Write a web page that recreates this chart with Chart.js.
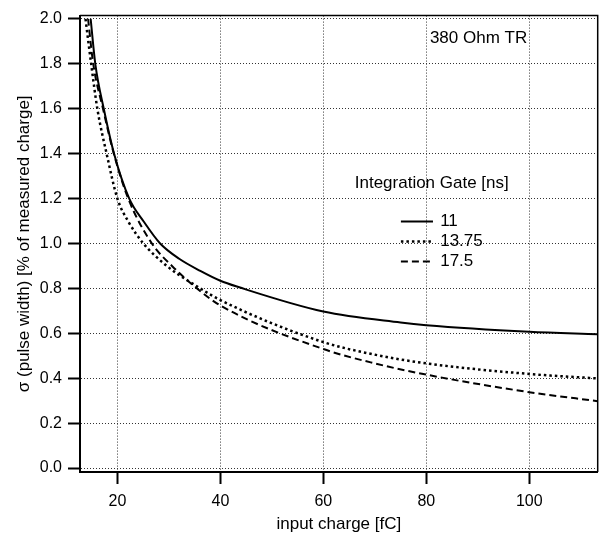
<!DOCTYPE html>
<html>
<head>
<meta charset="utf-8">
<script src="https://cdn.jsdelivr.net/npm/chart.js@4"></script>
<style>
  html, body { margin: 0; padding: 0; background: #fff; }
</style>
</head>
<body>
<canvas id="grafico" width="603" height="537"></canvas>
<script>
// Dados
const gates = ['11', '13.75', '17.5'];
const xTicks = [20, 40, 60, 80, 100];
const yTicks = [0.0, 0.2, 0.4, 0.6, 0.8, 1.0, 1.2, 1.4, 1.6, 1.8, 2.0];

const xGate11 = [14.8, 15.7, 17.35, 19.35, 22.3, 25.1, 28.3, 32, 36.1, 40, 43.5, 60, 75, 80, 100, 113.3];
const yGate11 = [2.0, 1.8, 1.6, 1.4, 1.2, 1.098, 1.0, 0.932, 0.878, 0.834, 0.806, 0.697, 0.648, 0.636, 0.607, 0.596];

const xGate1375 = [13.8, 14.9, 16.1, 17.9, 20, 22.2, 25.05, 29.6, 36.1, 40, 60, 70.2, 80, 100, 113.3];
const yGate1375 = [2.0, 1.8, 1.6, 1.4, 1.2, 1.095, 1.0, 0.9, 0.8, 0.748, 0.561, 0.504, 0.466, 0.419, 0.399];

const xGate175 = [14.3, 15.3, 17.2, 19.3, 22.1, 26.7, 30.6, 35.45, 40, 60, 70.2, 80, 100, 113.3];
const yGate175 = [2.0, 1.8, 1.6, 1.4, 1.2, 1.0, 0.9, 0.8, 0.724, 0.530, 0.465, 0.416, 0.338, 0.298];

const anotacao = '380 Ohm TR';
const tituloLegenda = 'Integration Gate [ns]';

const FONTE = '"Liberation Sans", Arial, Helvetica, sans-serif';
Chart.defaults.font.family = FONTE;
Chart.defaults.color = '#000';

function pontos(xs, ys) {
  return xs.map((x, i) => ({ x: x, y: ys[i] }));
}

// Estilos de cada série
const estilos = [
  { dash: [], width: 2 },
  { dash: [2.5, 3], width: 2.5 },
  { dash: [7, 4], width: 2 }
];

const series = [pontos(xGate11, yGate11), pontos(xGate1375, yGate1375), pontos(xGate175, yGate175)];

// Moldura, anotação e legenda dentro do gráfico
const molduraPlugin = {
  id: 'moldura',
  afterDraw(chart) {
    const { ctx, chartArea: a, scales: { x, y } } = chart;
    ctx.save();
    ctx.strokeStyle = '#000';
    ctx.lineWidth = 1.5;
    ctx.setLineDash([]);
    ctx.beginPath();
    ctx.moveTo(a.left, a.top);
    ctx.lineTo(a.right, a.top);
    ctx.lineTo(a.right, a.bottom);
    ctx.stroke();

    ctx.font = '17px ' + FONTE;
    ctx.fillStyle = '#000';
    ctx.textBaseline = 'middle';
    ctx.textAlign = 'left';
    ctx.fillText(anotacao, x.getPixelForValue(80.7), y.getPixelForValue(1.912));

    // Legenda
    ctx.fillText(tituloLegenda, x.getPixelForValue(66.1), y.getPixelForValue(1.266));
    const x0 = x.getPixelForValue(75.07);
    const x1 = x.getPixelForValue(81.3);
    const xt = x.getPixelForValue(82.7);
    let yy = y.getPixelForValue(1.0976);
    gates.forEach((g, i) => {
      ctx.beginPath();
      ctx.lineWidth = estilos[i].width;
      ctx.setLineDash(estilos[i].dash);
      ctx.moveTo(x0, yy);
      ctx.lineTo(x1, yy);
      ctx.stroke();
      ctx.fillText(g, xt, yy);
      yy += 20;
    });
    ctx.restore();
  }
};

const gridComum = {
  color: '#333',
  lineWidth: 1,
  tickLength: 12,
  tickColor: '#000',
  tickWidth: 2,
  tickBorderDash: []
};

// No Chart.js v4 o tracejado das linhas de grade fica em border.dash
const bordaComum = { color: '#000', width: 2, dash: [1, 2] };

new Chart(document.getElementById('grafico'), {
  type: 'scatter',
  data: {
    datasets: series.map((dados, i) => ({
      label: gates[i],
      data: dados,
      showLine: true,
      borderColor: '#000',
      backgroundColor: '#000',
      borderWidth: estilos[i].width,
      borderDash: estilos[i].dash,
      pointRadius: 0,
      cubicInterpolationMode: 'monotone',
      clip: 0
    }))
  },
  options: {
    responsive: false,
    animation: false,
    layout: { padding: { top: 9.5, right: 5.3, left: 0, bottom: 0 } },
    plugins: {
      legend: { display: false },
      tooltip: { enabled: false }
    },
    scales: {
      x: {
        type: 'linear',
        min: 12.73,
        max: 113.3,
        afterBuildTicks: s => { s.ticks = xTicks.map(v => ({ value: v })); },
        afterFit: s => { s.height = 65; },
        border: bordaComum,
        grid: gridComum,
        ticks: { color: '#000', font: { size: 16 }, padding: 8, maxRotation: 0, callback: v => v },
        title: {
          display: true,
          text: 'input charge [fC]',
          color: '#000',
          font: { size: 17 },
          padding: { top: 0, bottom: 2 }
        }
      },
      y: {
        type: 'linear',
        min: -0.0176,
        max: 2.015,
        afterBuildTicks: s => { s.ticks = yTicks.map(v => ({ value: v })); },
        afterFit: s => { s.width = 80; },
        border: bordaComum,
        grid: gridComum,
        ticks: { color: '#000', font: { size: 16 }, padding: 6, callback: v => v.toFixed(1) },
        title: {
          display: true,
          text: 'σ (pulse width) [% of measured charge]',
          color: '#000',
          font: { size: 17 },
          padding: { top: 14, bottom: 0 }
        }
      }
    }
  },
  plugins: [molduraPlugin]
});
</script>
</body>
</html>
